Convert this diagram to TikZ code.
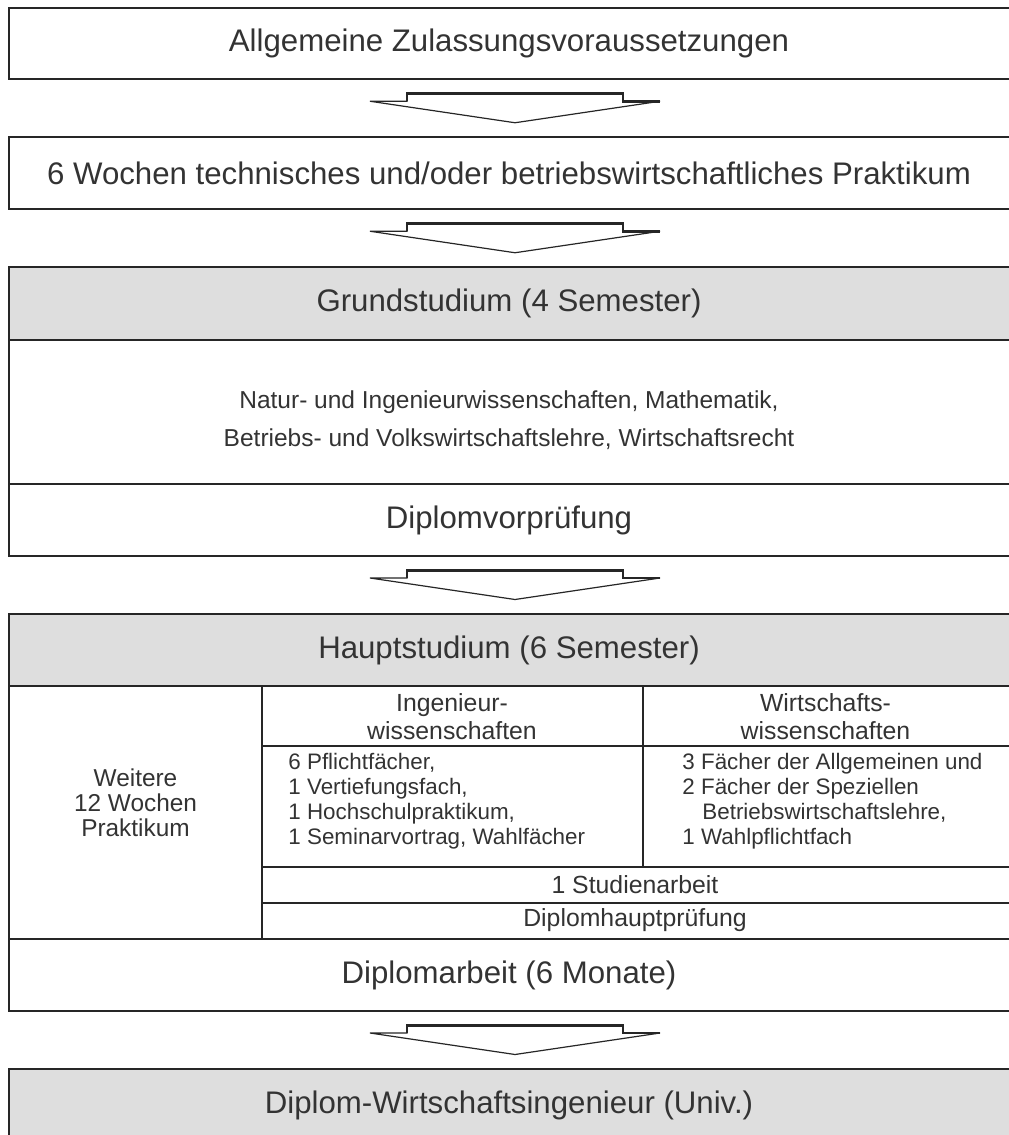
\documentclass[tikz,border=0pt]{standalone}
\usepackage{fontspec}
\setmainfont{Liberation Sans}
\usetikzlibrary{calc}
\definecolor{studLine}{HTML}{262626}
\definecolor{studText}{HTML}{333333}
\definecolor{studGray}{HTML}{DEDEDE}
\begin{document}
\begin{tikzpicture}[x=0.5pt,y=-0.5pt,
    studOuter/.style={draw=studLine,line width=1.3pt},
    studInner/.style={draw=studLine,line width=1pt},
    studBig/.style={text=studText,inner sep=0pt,font=\fontsize{15.6}{18}\selectfont},
    studMid/.style={text=studText,inner sep=0pt,align=center,font=\fontsize{12.25}{19}\selectfont},
    studTab/.style={text=studText,inner sep=0pt,align=center,font=\fontsize{12.4}{14}\selectfont},
    studList/.style={text=studText,inner sep=0pt,align=left,font=\fontsize{11.2}{12.5}\selectfont},
    studArrow/.pic={
        \draw[fill=white,draw=studLine,line width=0.6pt] (-108,-7) -- (-108,-14.5) -- (108,-14.5) -- (108,-7) -- (145,-7) -- (0,14.5) -- (-145,-7) -- cycle;
        \draw[studLine,line width=1.3pt] (-108,-7) -- (-108,-14.5) -- (108,-14.5) -- (108,-7) -- (145,-7);
    },
]
\useasboundingbox (0,0) rectangle (1008,1135);
% Zulassung und Praktikum
\draw[studOuter] (9,8) rectangle (1010,79);
\node[studBig] (zulassung) at (509,43.5) {Allgemeine Zulassungsvoraussetzungen};
\draw[studOuter] (9,137) rectangle (1010,209);
\node[studBig] (praktikum) at (509,173) {6 Wochen technisches und/oder betriebswirtschaftliches Praktikum};
% Grundstudium
\fill[studGray] (9,267) rectangle (1010,340);
\draw[studInner] (9,340) -- (1010,340);
\draw[studInner] (9,484) -- (1010,484);
\draw[studOuter] (9,267) rectangle (1010,556);
\node[studBig] (grund) at (509,303.5) {Grundstudium (4 Semester)};
\node[studMid] (grundFach) at (509,420) {Natur- und Ingenieurwissenschaften, Mathematik,\\Betriebs- und Volkswirtschaftslehre, Wirtschaftsrecht};
\node[studBig] (vorpruefung) at (509,520) {Diplomvorprüfung};
% Hauptstudium
\fill[studGray] (9,614) rectangle (1010,686);
\draw[studInner] (9,686) -- (1010,686);
\draw[studInner] (262,686) -- (262,939);
\draw[studInner] (642.5,686) -- (642.5,867);
\draw[studInner] (262,746) -- (1010,746);
\draw[studInner] (262,867) -- (1010,867);
\draw[studInner] (262,903) -- (1010,903);
\draw[studInner] (9,939) -- (1010,939);
\draw[studOuter] (9,614) rectangle (1010,1011);
\node[studBig] (haupt) at (509,650) {Hauptstudium (6 Semester)};
\node[studTab,font=\fontsize{12.2}{12.5}\selectfont] (weitere) at (135.5,803) {Weitere\\12 Wochen\\Praktikum};
\node[studTab] (ingHead) at (452,717) {Ingenieur-\\wissenschaften};
\node[studTab] (wiHead) at (825.5,717) {Wirtschafts-\\wissenschaften};
\node[studList,anchor=base west] (ingList) at (288,844) {6 Pflichtfächer,\\1 Vertiefungsfach,\\1 Hochschulpraktikum,\\1 Seminarvortrag, Wahlfächer};
\node[studList,anchor=base west] (wiList) at (682,844) {3 Fächer der Allgemeinen und\\2 Fächer der Speziellen\\\hspace*{10pt}Betriebswirtschaftslehre,\\1 Wahlpflichtfach};
\node[studTab] (studienarbeit) at (635,885) {1 Studienarbeit};
\node[studTab] (hauptpruefung) at (635,920.5) {Diplomhauptprüfung};
\node[studBig] (diplomarbeit) at (509,975) {Diplomarbeit (6 Monate)};
% Abschluss
\fill[studGray] (9,1069) rectangle (1010,1141);
\draw[studOuter] (9,1069) rectangle (1010,1141);
\node[studBig] (abschluss) at (509,1105) {Diplom-Wirtschaftsingenieur (Univ.)};
% Pfeile
\pic at ($(zulassung.center)!.5!(praktikum.center)+(6,0)$) {studArrow};
\pic at ($(praktikum.center)!.5!(grund.center)+(6,0)$) {studArrow};
\pic at ($(vorpruefung.center)!.5!(haupt.center)+(6,0)$) {studArrow};
\pic at ($(diplomarbeit.center)!.5!(abschluss.center)+(6,0)$) {studArrow};
\end{tikzpicture}
\end{document}
